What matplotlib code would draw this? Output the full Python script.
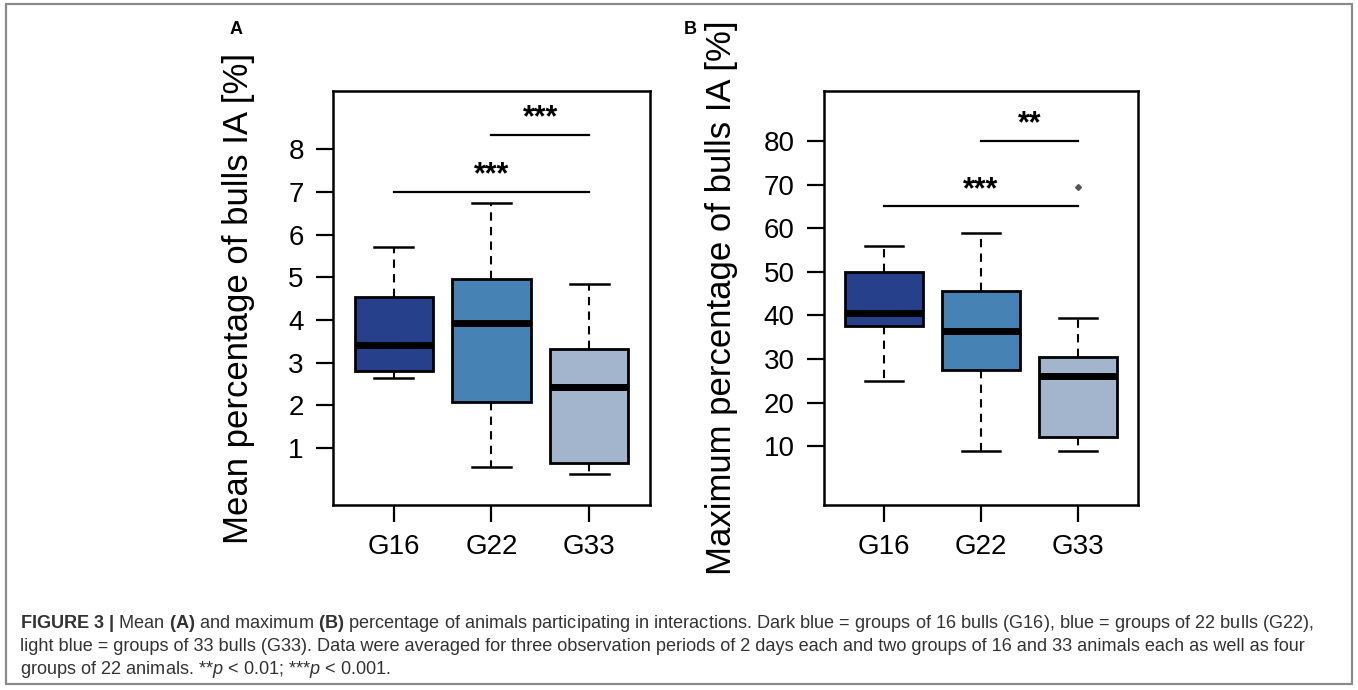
import numpy as np
import matplotlib
matplotlib.use("Agg")
import matplotlib.pyplot as plt

plt.rcParams['font.family'] = ['Liberation Sans', 'DejaVu Sans']
plt.rcParams['mathtext.fontset'] = 'custom'
plt.rcParams['mathtext.rm'] = 'Liberation Sans'
plt.rcParams['mathtext.bf'] = 'Liberation Sans:bold'
plt.rcParams['mathtext.it'] = 'Liberation Sans:italic'

groups = ['G16', 'G22', 'G33']
colors = ['#27408B', '#4682B4', '#A2B5CD']

# box stats: whisker low, Q1, median, Q3, whisker high
mean_low = [2.65, 0.55, 0.40]
mean_q1 = [2.80, 2.08, 0.65]
mean_med = [3.42, 3.92, 2.43]
mean_q3 = [4.55, 4.95, 3.32]
mean_high = [5.70, 6.75, 4.85]
mean_fliers = [[], [], []]

max_low = [25.0, 9.0, 9.0]
max_q1 = [37.5, 27.5, 12.0]
max_med = [40.5, 36.5, 26.0]
max_q3 = [50.0, 45.5, 30.5]
max_high = [56.0, 59.0, 39.5]
max_fliers = [[], [], [69.5]]

# significance brackets: (group from, group to, height, stars)
mean_sig = [(1, 3, 7.0, '***'), (2, 3, 8.33, '***')]
max_sig = [(1, 3, 65.0, '***'), (2, 3, 80.0, '**')]


def make_stats(low, q1, med, q3, high, fliers):
    out = []
    for i in range(len(groups)):
        out.append(dict(whislo=low[i], q1=q1[i], med=med[i], q3=q3[i],
                        whishi=high[i], fliers=fliers[i], label=groups[i]))
    return out


def draw_panel(ax, stats, sig, yticks, ylim, ylabel, star_off):
    bp = ax.bxp(stats, positions=[1, 2, 3], widths=0.8, patch_artist=True,
                showfliers=True,
                boxprops=dict(edgecolor='black', linewidth=2.0),
                medianprops=dict(color='black', linewidth=5),
                whiskerprops=dict(color='black', linewidth=1.5, linestyle=(0, (4, 3))),
                capprops=dict(color='black', linewidth=1.8),
                capwidths=0.4,
                flierprops=dict(marker='D', markersize=3, markerfacecolor='#555555',
                                markeredgecolor='#555555'))
    for patch, c in zip(bp['boxes'], colors):
        patch.set_facecolor(c)
    for x0, x1, h, s in sig:
        ax.plot([x0, x1], [h, h], color='black', lw=1.6)
        ax.text((x0 + x1) / 2, h + star_off, s, ha='center', va='baseline',
                fontsize=22, fontweight='bold')
    ax.set_xlim(0.38, 3.62)
    ax.set_ylim(*ylim)
    ax.set_yticks(yticks)
    ax.set_xticks([1, 2, 3])
    ax.set_xticklabels(groups)
    ax.tick_params(axis='both', labelsize=20, length=12, width=1.6, direction='out')
    ax.tick_params(axis='y', pad=9)
    ax.tick_params(axis='x', pad=9)
    for sp in ax.spines.values():
        sp.set_linewidth(1.8)
    ax.set_ylabel(ylabel, fontsize=25)


fig = plt.figure(figsize=(13.58, 6.90), dpi=100)

axA = fig.add_axes([0.2452, 0.2681, 0.2334, 0.6])
draw_panel(axA, make_stats(mean_low, mean_q1, mean_med, mean_q3, mean_high, mean_fliers),
           mean_sig, [1, 2, 3, 4, 5, 6, 7, 8], (-0.33, 9.36),
           'Mean percentage of bulls IA [%]', 0.2)
axA.yaxis.set_label_coords(-0.245, 0.5)

axB = fig.add_axes([0.6068, 0.2681, 0.2312, 0.6])
draw_panel(axB, make_stats(max_low, max_q1, max_med, max_q3, max_high, max_fliers),
           max_sig, [10, 20, 30, 40, 50, 60, 70, 80], (-3.5, 91.5),
           'Maximum percentage of bulls IA [%]', 2.0)
axB.yaxis.set_label_coords(-0.275, 0.5)

fig.text(236 / 1358, 1 - 30 / 690, 'A', fontsize=13, fontweight='bold', ha='center', va='center')
fig.text(690 / 1358, 1 - 30 / 690, 'B', fontsize=13, fontweight='bold', ha='center', va='center')

cap = [
    r'$\mathbf{FIGURE\ 3\ |}$ Mean $\mathbf{(A)}$ and maximum $\mathbf{(B)}$ percentage of animals '
    r'participating in interactions. Dark blue = groups of 16 bulls (G16), blue = groups of 22 bulls (G22),',
    'light blue = groups of 33 bulls (G33). Data were averaged for three observation periods of 2 days '
    'each and two groups of 16 and 33 animals each as well as four',
    r'groups of 22 animals. **$p$ < 0.01; ***$p$ < 0.001.',
]
for i, line in enumerate(cap):
    fig.text(20 / 1358, 1 - (624 + 22.5 * i) / 690, line, fontsize=13.1,
             color='#333333', ha='left', va='center')

border = plt.Rectangle((6 / 1358, 6 / 690), 1346 / 1358, 680 / 690,
                       transform=fig.transFigure, fill=False, edgecolor='#8a8a8a', lw=1.6)
fig.patches.append(border)

fig.savefig('out.png', dpi=100)
